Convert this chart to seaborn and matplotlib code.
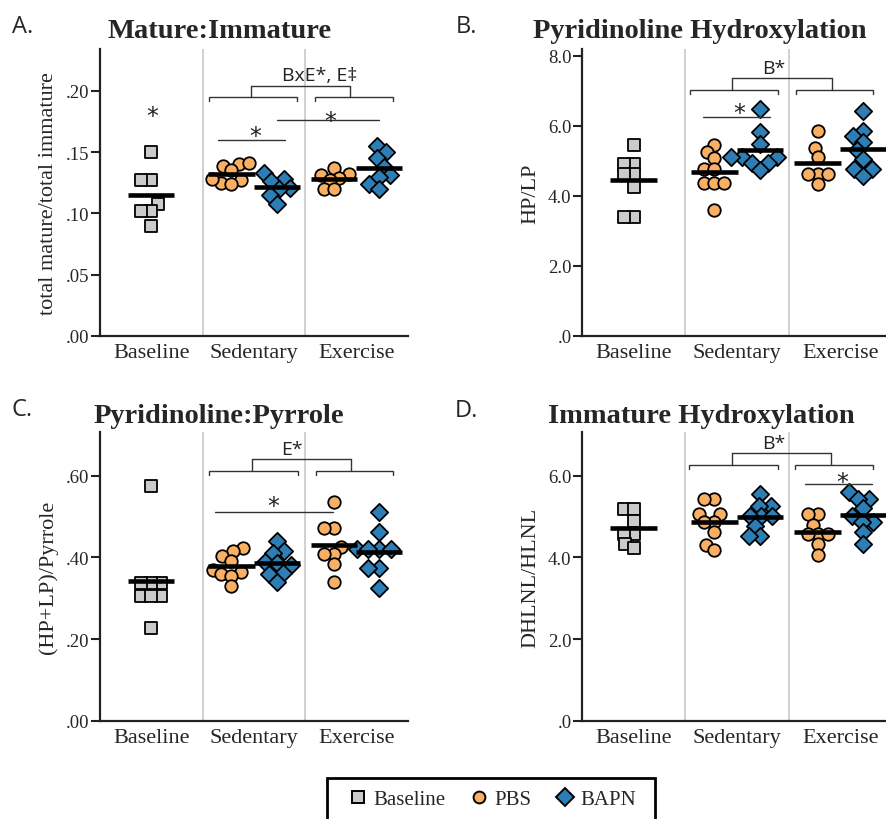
import matplotlib
matplotlib.use("Agg")
import matplotlib.pyplot as plt
import numpy as np
import pandas as pd
import seaborn as sns
from matplotlib.lines import Line2D
from matplotlib.patches import Rectangle

# ---------------- data ----------------
categories = ["Baseline", "Sedentary", "Exercise"]
treatments = ["Baseline", "PBS", "BAPN"]

# A. Mature:Immature
mi_baseline = [0.150, 0.127, 0.127, 0.108, 0.102, 0.102, 0.090]
mi_sed_pbs = [0.140, 0.141, 0.139, 0.135, 0.127, 0.125, 0.124, 0.128]
mi_sed_bapn = [0.133, 0.128, 0.126, 0.121, 0.120, 0.115, 0.108]
mi_ex_pbs = [0.137, 0.132, 0.131, 0.129, 0.127, 0.120, 0.120]
mi_ex_bapn = [0.155, 0.150, 0.145, 0.138, 0.131, 0.130, 0.124, 0.120]

# B. Pyridinoline Hydroxylation (HP/LP)
ph_baseline = [5.46, 4.90, 4.90, 4.62, 4.62, 4.26, 3.40, 3.40]
ph_sed_pbs = [5.46, 5.26, 5.07, 4.76, 4.76, 4.38, 4.38, 4.38, 3.60]
ph_sed_bapn = [6.48, 5.83, 5.48, 5.10, 5.10, 5.10, 4.95, 4.95, 4.73]
ph_ex_pbs = [5.84, 5.36, 5.10, 4.62, 4.62, 4.62, 4.33]
ph_ex_bapn = [6.43, 5.86, 5.70, 5.55, 5.30, 5.05, 4.76, 4.76, 4.57]

# C. Pyridinoline:Pyrrole ((HP+LP)/Pyrrole)
pp_baseline = [0.575, 0.338, 0.338, 0.338, 0.305, 0.305, 0.305, 0.228]
pp_sed_pbs = [0.422, 0.415, 0.402, 0.392, 0.370, 0.363, 0.358, 0.355, 0.330]
pp_sed_bapn = [0.440, 0.415, 0.410, 0.388, 0.385, 0.380, 0.362, 0.360, 0.340]
pp_ex_pbs = [0.536, 0.471, 0.471, 0.425, 0.408, 0.408, 0.384, 0.339]
pp_ex_bapn = [0.512, 0.461, 0.420, 0.420, 0.420, 0.420, 0.375, 0.375, 0.324]

# D. Immature Hydroxylation (DHLNL/HLNL)
ih_baseline = [5.18, 5.18, 4.90, 4.57, 4.57, 4.33, 4.22]
ih_sed_pbs = [5.43, 5.43, 5.06, 5.06, 4.86, 4.86, 4.61, 4.30, 4.18]
ih_sed_bapn = [5.55, 5.26, 5.26, 5.00, 5.00, 5.00, 4.77, 4.53, 4.53]
ih_ex_pbs = [5.06, 5.06, 4.79, 4.58, 4.58, 4.58, 4.33, 4.06]
ih_ex_bapn = [5.59, 5.43, 5.43, 5.20, 5.00, 4.87, 4.87, 4.61, 4.33]

titles = ["Mature:Immature", "Pyridinoline Hydroxylation",
          "Pyridinoline:Pyrrole", "Immature Hydroxylation"]
letters = ["A.", "B.", "C.", "D."]
ylabels = ["total mature/total immature", "HP/LP", "(HP+LP)/Pyrrole", "DHLNL/HLNL"]
yticks_a = [0.0, 0.05, 0.10, 0.15, 0.20]
yticklabels_a = [".00", ".05", ".10", ".15", ".20"]
yticks_b = [0.0, 2.0, 4.0, 6.0, 8.0]
yticklabels_b = [".0", "2.0", "4.0", "6.0", "8.0"]
yticks_c = [0.0, 0.20, 0.40, 0.60]
yticklabels_c = [".00", ".20", ".40", ".60"]
yticks_d = [0.0, 2.0, 4.0, 6.0]
yticklabels_d = [".0", "2.0", "4.0", "6.0"]

# ---------------- style ----------------
sns.set_style("ticks")
SERIF = ["Liberation Serif", "DejaVu Serif"]
SANS = ["Open Sans", "DejaVu Sans"]
plt.rcParams["font.family"] = SERIF

colors = {"Baseline": "#CBCBCB", "PBS": "#F9B064", "BAPN": "#2E7EB6"}
markers = {"Baseline": "s", "PBS": "o", "BAPN": "D"}
layout_size = {"Baseline": 5.6, "PBS": 5.6, "BAPN": 6.4}
disp_size = {"Baseline": 9.0, "PBS": 9.0, "BAPN": 8.8}
offset = {"Baseline": 0.0, "PBS": -0.22, "BAPN": 0.22}
ANN = "#333333"

W, H = 887, 820
fig = plt.figure(figsize=(W / 100, H / 100), dpi=100)


def fx(px):
    return px / W


def fy(py):
    return 1 - py / H


def make_df(b, sp, sb, ep, eb):
    rows = []
    for vals, grp, trt in [(b, "Baseline", "Baseline"), (sp, "Sedentary", "PBS"),
                           (sb, "Sedentary", "BAPN"), (ep, "Exercise", "PBS"),
                           (eb, "Exercise", "BAPN")]:
        for v in vals:
            rows.append((grp, trt, v))
    df = pd.DataFrame(rows, columns=["group", "treatment", "value"])
    df["pos"] = (df["group"].map({c: i for i, c in enumerate(categories)})
                 + df["treatment"].map(offset))
    return df


panel_data = [
    make_df(mi_baseline, mi_sed_pbs, mi_sed_bapn, mi_ex_pbs, mi_ex_bapn),
    make_df(ph_baseline, ph_sed_pbs, ph_sed_bapn, ph_ex_pbs, ph_ex_bapn),
    make_df(pp_baseline, pp_sed_pbs, pp_sed_bapn, pp_ex_pbs, pp_ex_bapn),
    make_df(ih_baseline, ih_sed_pbs, ih_sed_bapn, ih_ex_pbs, ih_ex_bapn),
]
ytick_sets = [(yticks_a, yticklabels_a), (yticks_b, yticklabels_b),
              (yticks_c, yticklabels_c), (yticks_d, yticklabels_d)]
ylims = [0.234, 8.19, 0.706, 7.06]

# axes rectangles in pixels: left, top, right, bottom
rects = [(100, 50, 408, 337), (582, 50, 887, 337),
         (100, 433.3, 408, 721.7), (582, 433.3, 887, 721.7)]
unit_px = [102.7, 103.4, 102.7, 103.4]

resize = []
axes = []
for k in range(4):
    l, t, r, b = rects[k]
    ax = fig.add_axes([fx(l), fy(b), (r - l) / W, (b - t) / H])
    axes.append(ax)
    df = panel_data[k]
    for xs in (0.5, 1.5):
        ax.axvline(xs, color="#C4C4C4", lw=1.1, zorder=0)
    for trt in treatments:
        sub = df[df["treatment"] == trt]
        n0 = len(ax.collections)
        sns.swarmplot(data=sub, x="pos", y="value", native_scale=True, orient="x",
                      marker=markers[trt], color=colors[trt], edgecolor="black",
                      linewidth=1.3, size=layout_size[trt], ax=ax, zorder=2)
        for c in ax.collections[n0:]:
            resize.append((c, disp_size[trt]))
    means = df.groupby("pos")["value"].mean()
    ax.hlines(means.values, means.index - 0.225, means.index + 0.225,
              colors="black", lw=3.3, zorder=4)

    ax.set_xlim(-0.5, -0.5 + (r - l) / unit_px[k])
    ax.set_ylim(0, ylims[k])
    ax.set_xticks([0, 1, 2])
    ax.set_xticklabels(categories, fontsize=16)
    yt, ytl = ytick_sets[k]
    ax.set_yticks(yt)
    ax.set_yticklabels(ytl, fontsize=13.5)
    ax.tick_params(axis="x", length=0, pad=5)
    ax.tick_params(axis="y", length=6.5, width=1.5, pad=1, color="#222222")
    for s in ("top", "right"):
        ax.spines[s].set_visible(False)
    for s in ("left", "bottom"):
        ax.spines[s].set_linewidth(1.6)
        ax.spines[s].set_color("#222222")
    ax.set_xlabel("")
    ax.set_ylabel(ylabels[k], fontsize=16)
    ax.yaxis.set_label_coords(-42 / (r - l), 0.5)
    ax.set_facecolor("white")


def group_bracket(ax, L0, L1, cL, R0, R1, cR, y_line, y_tick, y_top, tx, ty, txt):
    for a0, a1, c in ((L0, L1, cL), (R0, R1, cR)):
        ax.plot([a0, a0, a1, a1], [y_tick, y_line, y_line, y_tick], color=ANN, lw=1.0,
                solid_joinstyle="miter", zorder=5)
        ax.plot([c, c], [y_line, y_top], color=ANN, lw=1.0, zorder=5)
    ax.plot([cL, cR], [y_top, y_top], color=ANN, lw=1.0, zorder=5)
    ax.text(tx, ty, txt, ha="center", va="baseline", fontsize=14, family=SANS,
            color="#222222", zorder=5)


def star(ax, x, y):
    ax.annotate("*", xy=(x, y), xytext=(0, -10), textcoords="offset points",
                ha="center", va="baseline", fontsize=17, family=["DejaVu Sans"],
                color="#222222", zorder=5)


def sig_line(ax, x0, x1, y):
    ax.plot([x0, x1], [y, y], color=ANN, lw=1.0, zorder=5)


axA, axB, axC, axD = axes
# Panel A
group_bracket(axA, 0.561, 1.418, 0.970, 1.593, 2.353, 1.934,
              0.195, 0.1915, 0.204, 1.642, 0.2086, "BxE*, E\u2021")
star(axA, 0.006, 0.1853)
sig_line(axA, 0.649, 1.301, 0.1594)
star(axA, 1.009, 0.169)
sig_line(axA, 1.223, 2.217, 0.1758)
star(axA, 1.74, 0.1806)
# Panel B
group_bracket(axB, 0.544, 1.398, 0.948, 1.570, 2.317, 1.915,
              7.03, 6.90, 7.35, 1.35, 7.51, "B*")
sig_line(axB, 0.667, 1.318, 6.24)
star(axB, 1.02, 6.57)
# Panel C
group_bracket(axC, 0.564, 1.425, 0.977, 1.600, 2.356, 1.944,
              0.612, 0.601, 0.641, 1.367, 0.653, "E*")
sig_line(axC, 0.620, 1.772, 0.512)
star(axC, 1.188, 0.5427)
# Panel D
group_bracket(axD, 0.538, 1.393, 0.948, 1.560, 2.317, 1.908,
              6.26, 6.16, 6.55, 1.35, 6.67, "B*")
sig_line(axD, 1.657, 2.302, 5.79)
star(axD, 2.012, 6.0)

# titles and panel letters
title_pos = [(219.5, 38.5), (700, 38.5), (219, 422.7), (701.5, 422.7)]
letter_pos = [(12, 33), (456, 33), (12, 416), (455, 417)]
for k in range(4):
    fig.text(fx(title_pos[k][0]), fy(title_pos[k][1]), titles[k], ha="center",
             va="baseline", fontsize=20.5, fontweight="bold")
    fig.text(fx(letter_pos[k][0]), fy(letter_pos[k][1]), letters[k], ha="left",
             va="baseline", fontsize=17, family=SANS)

# legend
handles = [Line2D([], [], ls="", marker=markers[t], markerfacecolor=colors[t],
                  markeredgecolor="black", markeredgewidth=1.4,
                  markersize=8.5 if t != "BAPN" else 9.0) for t in treatments]
leg = fig.legend(handles, treatments, ncol=3, loc="center left",
                 bbox_to_anchor=(fx(337), fy(800)), frameon=False, borderpad=0,
                 handlelength=1.0, handletextpad=0.25, columnspacing=1.1,
                 prop={"family": SERIF, "size": 15})
fig.patches.append(Rectangle((fx(327), fy(823)), (655 - 327) / W, (823 - 779) / H,
                             transform=fig.transFigure, fill=False,
                             edgecolor="black", lw=2.0))

# compute swarm layout with the compact size, then show the markers at full size
fig.canvas.draw()
for coll, s in resize:
    coll.__dict__.pop("draw", None)
    coll.set_sizes([s ** 2])

fig.savefig("out.png", dpi=100, facecolor="white")
